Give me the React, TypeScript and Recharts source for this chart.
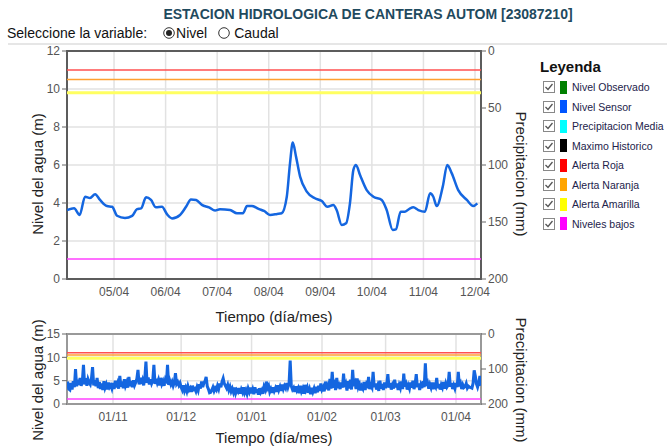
import {
  ComposedChart,
  Line,
  XAxis,
  YAxis,
  CartesianGrid,
  ReferenceLine,
  ReferenceArea,
} from "recharts";

const FONT = "Arial, 'Liberation Sans', sans-serif";

// serie de detalle: horas desde 04/04 00:00 y nivel del sensor (m)
const horasCorto = [
  2.1, 5.4, 8.0, 10.5, 12.8, 15.2, 17.5, 20.7, 23.1, 25.4,
  29.1, 32.4, 34.7, 36.6, 38.9, 41.2, 43.5, 46.3, 48.7, 51.0,
  54.7, 57.5, 59.8, 62.2, 64.9, 68.2, 71.0, 73.3, 78.0, 81.2,
  84.0, 85.9, 88.2, 91.5, 93.8, 96.6, 99.9, 102.0, 104.4, 105.9,
  107.2, 108.7, 110.6, 113.7, 117.5, 120.7, 123.3, 126.1, 127.6, 130.0,
  132.0, 133.8, 135.4, 136.6, 138.5, 141.6, 144.7, 148.6, 150.9, 153.7,
  155.2, 157.4, 159.4, 161.8, 163.3, 165.6, 168.7, 171.1, 172.6, 174.2,
  177.0, 179.1, 181.2, 184.2, 188.2, 191.2, 193.1,
];
const nivelCorto = [
  3.63, 3.72, 3.37, 4.33, 4.26, 4.46, 4.16, 3.84, 3.8, 3.33,
  3.21, 3.32, 3.68, 3.72, 4.3, 4.16, 3.77, 3.8, 3.4, 3.19,
  3.37, 3.8, 4.19, 4.16, 3.9, 3.77, 3.6, 3.67, 3.63, 3.46,
  3.46, 3.84, 3.84, 3.68, 3.58, 3.37, 3.42, 3.46, 4.33, 6.09,
  7.18, 6.44, 5.39, 4.6, 4.25, 4.1, 3.8, 3.9, 3.63, 2.84,
  2.93, 3.98, 5.74, 6.0, 5.47, 4.68, 4.33, 4.16, 3.63, 2.58,
  2.61, 3.54, 3.54, 3.72, 3.77, 3.63, 3.54, 4.51, 4.33, 3.84,
  4.86, 6.0, 5.56, 4.68, 4.16, 3.84, 3.98,
];
const ticksCorto = [24, 48, 72, 96, 120, 144, 168, 192];
const etiquetasCorto = ["05/04", "06/04", "07/04", "08/04", "09/04", "10/04", "11/04", "12/04"];

// serie larga: un valor cada medio dia desde el dia 11 (contando desde 01/10)
const inicioLargo = 11;
const pasoLargo = 0.5;
const nivelLargo = [
  4.8, 3.2, 3.0, 4.5, 3.1, 4.9, 3.6, 7.5, 3.8, 5.2, 4.1, 5.6, 3.9, 4.8, 8.4, 4.2, 5.5, 3.9, 5.3, 4.6,
  4.2, 5.4, 7.9, 4.0, 5.1, 3.8, 5.6, 3.4, 4.7, 3.2, 4.4, 3.0, 4.9, 3.5, 4.2, 3.1, 4.6, 3.6, 4.0, 3.3,
  4.5, 3.2, 5.0, 3.6, 4.4, 3.3, 6.0, 3.7, 4.8, 3.4, 5.3, 3.9, 4.6, 3.5, 5.8, 3.8, 4.9, 3.6, 5.1, 4.0,
  4.6, 5.4, 7.3, 4.2, 5.6, 4.3, 5.1, 4.0, 5.5, 9.1, 4.5, 5.7, 4.2, 5.3, 4.4, 5.0, 8.4, 4.3, 5.4, 4.5,
  5.2, 4.0, 5.6, 4.3, 4.9, 3.9, 5.1, 4.4, 8.4, 4.1, 5.0, 4.2, 4.8, 3.9, 4.6, 6.6, 4.3, 4.7, 4.0, 4.5,
  3.6, 3.0, 4.0, 2.8, 3.5, 2.7, 3.8, 3.0, 3.4, 2.6, 3.9, 3.1, 3.3, 2.7, 3.6, 2.9, 4.2, 3.3, 4.8, 3.6,
  4.5, 4.9, 5.8, 3.8, 3.2, 2.4, 2.5, 3.0, 3.6, 2.8, 3.4, 3.0, 3.9, 3.2, 4.4, 3.6, 4.8, 5.5, 4.4, 3.9,
  3.4, 4.1, 3.0, 3.7, 2.7, 3.3, 2.5, 3.5, 2.3, 3.0, 2.6, 3.4, 2.2, 3.1, 2.5, 3.6, 2.4, 3.0, 2.2, 3.3,
  2.6, 3.5, 2.3, 3.1, 2.1, 3.6, 2.4, 3.2, 2.0, 3.4, 2.5, 3.0, 2.2, 3.7, 3.1, 4.8, 3.4, 3.9, 2.6, 3.2,
  2.4, 3.6, 2.8, 3.4, 2.6, 4.0, 3.0, 3.7, 2.8, 4.2, 3.2, 3.9, 3.4, 4.5, 3.6, 4.4, 9.3, 3.8, 3.1, 3.5,
  2.6, 3.8, 2.9, 3.4, 2.3, 3.9, 2.7, 3.3, 2.2, 4.1, 3.0, 3.6, 2.4, 3.2, 2.1, 3.5, 2.6, 3.3, 2.3, 3.7,
  2.5, 3.9, 2.8, 4.4, 3.1, 3.6, 2.7, 4.8, 3.2, 3.9, 2.9, 5.4, 3.3, 6.9, 3.5, 4.2, 3.0, 5.6, 3.4, 4.0,
  3.2, 4.6, 3.5, 6.5, 3.6, 4.3, 2.9, 4.9, 3.3, 5.2, 3.1, 7.3, 3.8, 4.5, 3.2, 5.5, 3.6, 4.2, 2.9, 3.8,
  3.3, 4.7, 3.0, 4.1, 3.4, 5.8, 3.2, 4.0, 3.5, 6.9, 3.6, 4.4, 3.1, 3.9, 2.8, 5.0, 3.3, 4.3, 3.0, 4.6,
  3.4, 4.2, 6.4, 3.5, 4.5, 3.1, 4.0, 3.3, 5.2, 3.6, 4.4, 3.0, 4.1, 3.4, 4.8, 3.2, 6.5, 3.7, 4.3, 3.1,
  4.0, 3.3, 4.6, 3.5, 5.0, 3.2, 4.2, 6.4, 3.6, 4.4, 3.0, 4.1, 3.4, 4.9, 3.6, 8.7, 3.9, 4.5, 3.3, 4.2,
  3.5, 4.6, 3.2, 4.0, 3.6, 5.6, 3.4, 4.3, 3.1, 4.1, 3.5, 4.7, 3.3, 4.4, 3.6, 4.0, 6.9, 3.7, 4.5, 3.2,
  4.0, 3.3, 4.5, 3.6, 6.9, 3.8, 4.4, 3.2, 4.1, 3.5, 3.7, 4.4, 3.4, 3.8, 3.6, 3.5, 3.4, 4.4, 7.2, 6.0,
  4.3, 3.6, 4.5, 6.0, 3.9,
];
const ticksLargo = [31, 61, 92, 123, 151, 182];
const etiquetasLargo = ["01/11", "01/12", "01/01", "01/02", "01/03", "01/04"];

// umbrales (m)
const alertaRoja = 11;
const alertaNaranja = 10.5;
const alertaAmarilla = 9.8;
const nivelesBajos = 1.05;

const leyendaNombres = [
  "Nivel Observado",
  "Nivel Sensor",
  "Precipitacion Media",
  "Maximo Historico",
  "Alerta Roja",
  "Alerta Naranja",
  "Alerta Amarilla",
  "Niveles bajos",
];
const leyendaColores = ["#008000", "#0055ff", "#00ffff", "#000000", "#ff0000", "#ffa500", "#ffff00", "#ff00ff"];

const datosCorto = horasCorto.map((h, i) => ({ t: h, nivel: nivelCorto[i] }));
const datosLargo = nivelLargo.map((v, i) => ({ t: inicioLargo + i * pasoLargo, nivel: v }));

const tickStyle = { fontSize: 12, fill: "#555", fontFamily: FONT };

function AxisTitle(props: any) {
  const { viewBox, value, angle = 0, side, shift = 0 } = props;
  const { x, y, width, height } = viewBox;
  let cx = x + width / 2;
  let cy = y + height / 2 + shift;
  if (side === "left") cx = x + 20;
  if (side === "right") cx = x + width;
  if (side === "bottom") cy = y + height - shift;
  return (
    <text
      x={cx}
      y={cy}
      transform={angle ? `rotate(${angle} ${cx} ${cy})` : undefined}
      textAnchor="middle"
      dominantBaseline="central"
      fontSize={15}
      fontFamily={FONT}
      fill="#222"
    >
      {value}
    </text>
  );
}

function Panel({
  data,
  width,
  height,
  margin,
  xDomain,
  xTicks,
  xLabels,
  yMax,
  yTicks,
  frame,
  lineType,
  lineWidth,
  titleShift,
  xAxisHeight,
  xTitleShift,
}: any) {
  return (
    <ComposedChart width={width} height={height} data={data} margin={margin}>
      <CartesianGrid stroke="#e2e2e2" strokeWidth={1.5} />
      <XAxis
        dataKey="t"
        type="number"
        domain={xDomain}
        ticks={xTicks}
        allowDataOverflow
        tickFormatter={(v: number) => xLabels[xTicks.indexOf(v)]}
        tick={tickStyle}
        tickLine={false}
        axisLine={false}
        height={xAxisHeight}
        label={{ value: "Tiempo (día/mes)", side: "bottom", shift: xTitleShift, content: AxisTitle }}
      />
      <YAxis
        type="number"
        domain={[0, yMax]}
        ticks={yTicks}
        allowDataOverflow
        width={50}
        tick={tickStyle}
        tickSize={5}
        tickMargin={2}
        tickLine={{ stroke: "#666" }}
        axisLine={false}
        label={{ value: "Nivel del agua (m)", side: "left", angle: -90, shift: titleShift, content: AxisTitle }}
      />
      <YAxis
        yAxisId="p"
        orientation="right"
        type="number"
        domain={[0, 200]}
        ticks={[0, 50, 100, 150, 200]}
        reversed
        allowDataOverflow
        width={40}
        tick={tickStyle}
        tickSize={5}
        tickMargin={2}
        tickLine={{ stroke: "#666" }}
        axisLine={false}
        label={{ value: "Precipitacion (mm)", side: "right", angle: 90, shift: titleShift, content: AxisTitle }}
      />
      <ReferenceLine y={alertaRoja} stroke="#ff5050" strokeWidth={1.5} />
      <ReferenceLine y={alertaNaranja} stroke="#ffa030" strokeWidth={1.5} />
      <ReferenceLine y={alertaAmarilla} stroke="#ffff60" strokeWidth={3} />
      <ReferenceLine y={nivelesBajos} stroke="#ff40ff" strokeWidth={1.5} />
      <Line
        dataKey="nivel"
        type={lineType}
        stroke="#1466e0"
        strokeWidth={lineWidth}
        dot={false}
        isAnimationActive={false}
      />
      <ReferenceArea
        x1={xDomain[0]}
        x2={xDomain[1]}
        y1={0}
        y2={yMax}
        fill="none"
        stroke={frame}
        strokeWidth={2}
      />
    </ComposedChart>
  );
}

function CheckBox() {
  return (
    <svg width={12} height={12} style={{ display: "block" }}>
      <rect x={0.5} y={0.5} width={11} height={11} fill="#fff" stroke="#888" />
      <polyline points="2.5,6 5,8.5 9.5,3" fill="none" stroke="#555" strokeWidth={1.3} />
    </svg>
  );
}

function Radio({ on, gapLeft, gapRight }: { on: boolean; gapLeft: number; gapRight: number }) {
  return (
    <svg
      width={12}
      height={12}
      style={{ display: "inline-block", verticalAlign: "-1px", marginLeft: gapLeft, marginRight: gapRight }}
    >
      <circle cx={6} cy={6} r={5.3} fill="#fff" stroke="#333" />
      {on && <circle cx={6} cy={6} r={3} fill="#222" />}
    </svg>
  );
}

export default function App() {
  return (
    <div
      style={{
        position: "absolute",
        left: 0,
        top: 0,
        width: 667,
        height: 447,
        background: "#fff",
        fontFamily: FONT,
        overflow: "hidden",
      }}
    >
      <div
        style={{
          position: "absolute",
          left: 0,
          width: 736,
          top: 6,
          textAlign: "center",
          fontSize: 14,
          fontWeight: "bold",
          color: "#1f4a5e",
          whiteSpace: "nowrap",
        }}
      >
        ESTACION HIDROLOGICA DE CANTERAS AUTOM [23087210]
      </div>
      <div style={{ position: "absolute", left: 7, top: 25, fontSize: 14, color: "#111", whiteSpace: "nowrap" }}>
        Seleccione la variable:
        <Radio on gapLeft={16} gapRight={1} />
        Nivel
        <Radio on={false} gapLeft={11} gapRight={4} />
        Caudal
      </div>
      <div style={{ position: "absolute", left: 8, right: 0, top: 43, height: 2, background: "#e6e6e6" }} />

      <div style={{ position: "absolute", left: 0, top: 40 }}>
        <Panel
          data={datosCorto}
          width={540}
          height={290}
          margin={{ top: 11, right: 19, bottom: 6, left: 17 }}
          xDomain={[2.1, 194.8]}
          xTicks={ticksCorto}
          xLabels={etiquetasCorto}
          yMax={12}
          yTicks={[0, 2, 4, 6, 8, 10, 12]}
          frame="#5c5c5c"
          lineType="monotone"
          lineWidth={2.5}
          titleShift={9}
          xAxisHeight={45}
          xTitleShift={8}
        />
      </div>

      <div style={{ position: "absolute", left: 0, top: 300 }}>
        <Panel
          data={datosLargo}
          width={540}
          height={147}
          margin={{ top: 34, right: 19, bottom: 3, left: 17 }}
          xDomain={[10.75, 193]}
          xTicks={ticksLargo}
          xLabels={etiquetasLargo}
          yMax={15}
          yTicks={[0, 5, 10, 15]}
          frame="#999"
          lineType="linear"
          lineWidth={3}
          titleShift={11}
          xAxisHeight={40}
          xTitleShift={7}
        />
      </div>

      <div style={{ position: "absolute", left: 540, top: 58, fontSize: 15, fontWeight: "bold", color: "#111" }}>
        Leyenda
      </div>
      {leyendaNombres.map((n, i) => (
        <div
          key={n}
          style={{
            position: "absolute",
            left: 543,
            top: 80 + i * 19.5,
            height: 14,
            display: "flex",
            alignItems: "center",
            whiteSpace: "nowrap",
          }}
        >
          <CheckBox />
          <div style={{ width: 7, height: 13, background: leyendaColores[i], marginLeft: 5 }} />
          <span style={{ marginLeft: 5, fontSize: 10.5, color: "#22224a" }}>{n}</span>
        </div>
      ))}
    </div>
  );
}
